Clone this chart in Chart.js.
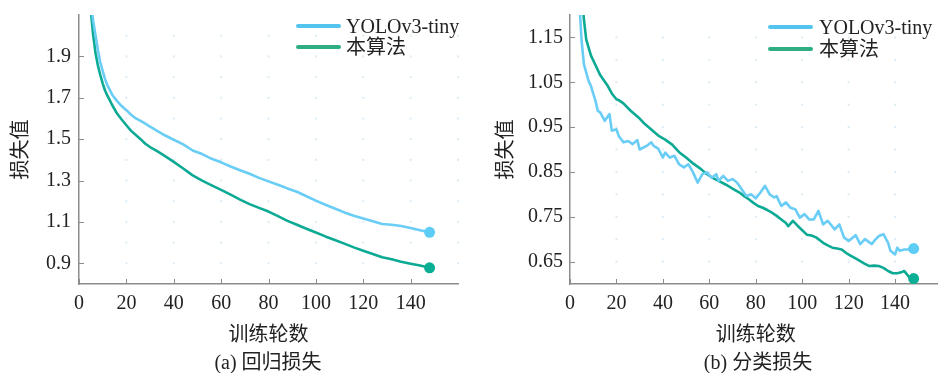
<!DOCTYPE html>
<html lang="zh">
<head>
<meta charset="utf-8">
<script src="https://cdn.jsdelivr.net/npm/chart.js@4.4.1/dist/chart.umd.min.js"></script>
<style>
  html, body { margin: 0; padding: 0; width: 938px; height: 373px; overflow: hidden; background: #fff; }
  .wrap { position: absolute; top: 0; }
  .txt {
    position: absolute;
    font-family: "Liberation Serif", "Noto Sans CJK SC", serif;
    font-size: 20px;
    line-height: 20px;
    color: #222;
    white-space: nowrap;
  }
  .caption { transform: translateX(-50%); }
  .leg-line { position: absolute; height: 4px; border-radius: 2px; }
</style>
</head>
<body>
<div class="wrap" style="left:0;width:469px;height:373px"><canvas id="chart-a" width="469" height="373"></canvas></div>
<div class="wrap" style="left:469px;width:478px;height:373px"><canvas id="chart-b" width="478" height="373"></canvas></div>
<div id="overlay"></div>

<script>
// ---- data ----
const seriesNames = ["YOLOv3-tiny", "本算法"];
const xTitle = "训练轮数";
const yTitle = "损失值";
const captions = ["(a) 回归损失", "(b) 分类损失"];
const xTicks = [0, 20, 40, 60, 80, 100, 120, 140];

// (a) regression loss
const yTicksA = [0.9, 1.1, 1.3, 1.5, 1.7, 1.9];
const epochsA = [4, 5, 6, 7, 8, 9, 10, 11, 12,
  14, 16, 18, 20, 22, 24, 26, 28, 30,
  33, 36, 40, 44, 48, 52, 56, 60,
  64, 68, 72, 76, 80, 84, 88, 92, 96, 100,
  104, 108, 112, 116, 120, 124, 128, 132, 136, 140, 144, 148];
const yoloA = [2.30, 2.16, 2.07, 2.00, 1.93, 1.87, 1.83, 1.79, 1.76,
  1.715, 1.685, 1.66, 1.64, 1.618, 1.60, 1.588, 1.575, 1.56,
  1.54, 1.52, 1.497, 1.475, 1.445, 1.428, 1.405, 1.388,
  1.368, 1.35, 1.333, 1.313, 1.296, 1.28, 1.262, 1.246, 1.224, 1.203,
  1.183, 1.165, 1.146, 1.13, 1.117, 1.103, 1.09, 1.086, 1.08, 1.071, 1.06, 1.05];
const oursA = [2.28, 2.12, 2.00, 1.915, 1.855, 1.81, 1.77, 1.735, 1.71,
  1.665, 1.625, 1.595, 1.567, 1.54, 1.52, 1.50, 1.478, 1.462,
  1.442, 1.42, 1.39, 1.358, 1.325, 1.30, 1.277, 1.255,
  1.232, 1.208, 1.186, 1.168, 1.15, 1.128, 1.105, 1.086, 1.067, 1.049,
  1.03, 1.013, 0.995, 0.977, 0.961, 0.945, 0.929, 0.92, 0.908, 0.898, 0.889, 0.878];

// (b) classification loss
const yTicksB = [0.65, 0.75, 0.85, 0.95, 1.05, 1.15];
const yoloEpochsB = [4, 5, 6, 8, 9, 11, 12, 13, 15, 17,
  18, 20, 21, 23, 25, 27, 29, 30, 33, 35,
  36, 38, 40, 41, 43, 45, 47, 49, 51, 53,
  55, 57, 59, 61, 63, 64, 66, 68, 70, 72,
  74, 76, 78, 80, 82, 84, 86, 88, 89, 91,
  93, 95, 97, 99, 101, 103, 105, 107, 109, 111,
  114, 116, 118, 120, 123, 125, 127, 130, 131, 133,
  135, 137, 138, 140, 141, 142, 144, 146, 148];
const yoloB = [1.23, 1.142, 1.09, 1.053, 1.042, 1.008, 0.986, 0.983, 0.964, 0.979,
  0.942, 0.945, 0.93, 0.916, 0.919, 0.912, 0.921, 0.90, 0.908, 0.916,
  0.908, 0.902, 0.882, 0.893, 0.882, 0.886, 0.867, 0.86, 0.867, 0.849,
  0.826, 0.845, 0.849, 0.837, 0.845, 0.83, 0.841, 0.83, 0.834, 0.826,
  0.811, 0.796, 0.80, 0.791, 0.804, 0.819, 0.80, 0.793, 0.796, 0.774,
  0.782, 0.77, 0.767, 0.748, 0.756, 0.744, 0.744, 0.763, 0.733, 0.741,
  0.722, 0.733, 0.704, 0.696, 0.709, 0.689, 0.70, 0.689, 0.696, 0.707,
  0.711, 0.692, 0.674, 0.666, 0.681, 0.674, 0.677, 0.677, 0.679];
const oursEpochsB = [5, 6, 7, 9, 11, 13, 16, 18, 20, 21,
  23, 26, 28, 30, 32, 34, 36, 38, 41, 44,
  47, 50, 53, 56, 58, 61, 64, 67, 70, 73,
  75, 77, 79, 81, 83, 85, 87, 89, 91, 93,
  94, 96, 98, 100, 102, 104, 106, 109, 111, 113,
  115, 117, 119, 121, 123, 125, 127, 129, 131, 133,
  135, 137, 139, 141, 143, 144, 145, 146, 148];
const oursB = [1.25, 1.19, 1.145, 1.11, 1.088, 1.066, 1.044, 1.025, 1.012, 1.01,
  1.003, 0.987, 0.978, 0.969, 0.958, 0.949, 0.94, 0.931, 0.922, 0.911,
  0.894, 0.882, 0.869, 0.858, 0.849, 0.838, 0.83, 0.822, 0.813, 0.804,
  0.796, 0.789, 0.781, 0.774, 0.77, 0.765, 0.759, 0.752, 0.744, 0.736,
  0.729, 0.741, 0.73, 0.72, 0.71, 0.708, 0.704, 0.692, 0.686, 0.681,
  0.679, 0.677, 0.669, 0.663, 0.657, 0.651, 0.645, 0.64, 0.641, 0.64,
  0.636, 0.629, 0.624, 0.624, 0.627, 0.629, 0.622, 0.616, 0.612];

// faint dotted grid positions
const dotsX = [20, 40, 60, 80, 100, 120, 140, 160];
const dotsYA = [0.9, 1.0, 1.1, 1.2, 1.3, 1.4, 1.5, 1.6, 1.7, 1.8, 1.9, 2.0];
const dotsYB = [0.65, 0.7, 0.75, 0.8, 0.85, 0.9, 0.95, 1.0, 1.05, 1.1, 1.15];

// ---- styling ----
const FONT = '"Liberation Serif", "Noto Sans CJK SC", serif';
const TEXT = "#222";
const AXIS = "#8c8c8c";
const LINE_COLORS = ["#6acdf5", "#0caa94"];
const MARKER_COLORS = ["#5ecdf6", "#0aae95"];
const LEGEND_COLORS = ["#52c4ee", "#2fae82"];

// draws the inward tick marks and the faint grid dots
const innerTicks = {
  id: "innerTicks",
  beforeDatasetsDraw(chart, args, opts) {
    const { ctx, chartArea, scales: { x, y } } = chart;
    ctx.save();
    ctx.fillStyle = "rgba(195, 222, 240, 0.6)";
    opts.dotX.forEach(xv => {
      opts.dotY.forEach(yv => {
        ctx.fillRect(x.getPixelForValue(xv) - 1, y.getPixelForValue(yv) - 1, 2, 2);
      });
    });
    ctx.strokeStyle = AXIS;
    ctx.lineWidth = 1;
    ctx.beginPath();
    x.ticks.forEach(t => {
      const px = Math.round(x.getPixelForValue(t.value)) + 0.5;
      ctx.moveTo(px, chartArea.bottom);
      ctx.lineTo(px, chartArea.bottom - 5);
    });
    y.ticks.forEach(t => {
      const py = Math.round(y.getPixelForValue(t.value)) + 0.5;
      ctx.moveTo(chartArea.left, py);
      ctx.lineTo(chartArea.left + 5, py);
    });
    ctx.stroke();
    ctx.restore();
  }
};

function buildChart(canvasId, cfg) {
  const datasets = cfg.series.map((s, k) => ({
    label: seriesNames[k],
    data: s.x.map((xv, i) => ({ x: xv, y: s.y[i] })),
    borderColor: LINE_COLORS[k],
    borderWidth: 2.6,
    tension: 0,
    borderJoinStyle: "round",
    pointRadius: c => (c.dataIndex === s.x.length - 1 ? 5.5 : 0),
    pointHoverRadius: 0,
    pointBackgroundColor: MARKER_COLORS[k],
    pointBorderWidth: 0,
    clip: { left: 0, top: 0, right: 8, bottom: 8 }
  }));

  const tickFont = { family: FONT, size: 20 };

  return new Chart(document.getElementById(canvasId), {
    type: "line",
    data: { datasets },
    options: {
      responsive: false,
      animation: false,
      events: [],
      layout: { padding: cfg.padding },
      plugins: {
        legend: { display: false },
        tooltip: { enabled: false },
        innerTicks: { dotX: dotsX, dotY: cfg.dotsY }
      },
      scales: {
        x: {
          type: "linear",
          min: 0,
          max: 160,
          afterBuildTicks: sc => { sc.ticks = xTicks.map(v => ({ value: v })); },
          afterFit: sc => { sc.height = 64; sc.paddingLeft = 0; sc.paddingRight = 0; },
          grid: { display: false, drawTicks: false },
          border: { color: AXIS, width: 1.5 },
          ticks: { color: TEXT, font: tickFont, padding: 8, maxRotation: 0, autoSkip: false },
          title: { display: true, text: xTitle, color: TEXT, font: tickFont, padding: { top: 0, bottom: 0 } }
        },
        y: {
          type: "linear",
          min: cfg.yMin,
          max: cfg.yMax,
          afterBuildTicks: sc => { sc.ticks = cfg.yTicks.map(v => ({ value: v })); },
          afterFit: sc => { sc.width = cfg.yWidth; sc.paddingTop = 0; sc.paddingBottom = 0; },
          grid: { display: false, drawTicks: false },
          border: { color: AXIS, width: 1.5 },
          ticks: {
            color: TEXT, font: tickFont, padding: cfg.yLabelGap,
            callback: v => v.toFixed(cfg.digits)
          },
          title: { display: true, text: yTitle, color: TEXT, font: tickFont, padding: { top: cfg.yTitleGap, bottom: 0 } }
        }
      }
    },
    plugins: [innerTicks]
  });
}

buildChart("chart-a", {
  series: [{ x: epochsA, y: yoloA }, { x: epochsA, y: oursA }],
  yMin: 0.8, yMax: 2.1, yTicks: yTicksA, digits: 1, dotsY: dotsYA,
  yWidth: 79, yLabelGap: 8, yTitleGap: 10,
  padding: { left: 0, top: 15, right: 11, bottom: 25 }
});

buildChart("chart-b", {
  series: [{ x: yoloEpochsB, y: yoloB }, { x: oursEpochsB, y: oursB }],
  yMin: 0.6, yMax: 1.2, yTicks: yTicksB, digits: 2, dotsY: dotsYB,
  yWidth: 101, yLabelGap: 7, yTitleGap: 26,
  padding: { left: 0, top: 15, right: 0, bottom: 25 }
});

// legends and captions as html text
const overlay = document.getElementById("overlay");
const legendSpots = [
  { lineX: 296, textX: 346, rows: [26, 47] },
  { lineX: 768, textX: 819, rows: [27, 49] }
];
legendSpots.forEach(spot => {
  seriesNames.forEach((name, k) => {
    const cy = spot.rows[k];
    const line = document.createElement("div");
    line.className = "leg-line";
    line.style.cssText = `left:${spot.lineX}px;top:${cy - 2}px;width:45px;background:${LEGEND_COLORS[k]}`;
    overlay.appendChild(line);
    const label = document.createElement("div");
    label.className = "txt";
    label.style.cssText = `left:${spot.textX}px;top:${cy - 10}px`;
    label.textContent = name;
    overlay.appendChild(label);
  });
});

[268, 758].forEach((cx, i) => {
  const cap = document.createElement("div");
  cap.className = "txt caption";
  cap.style.cssText = `left:${cx}px;top:352px`;
  cap.textContent = captions[i];
  overlay.appendChild(cap);
});
</script>
</body>
</html>
